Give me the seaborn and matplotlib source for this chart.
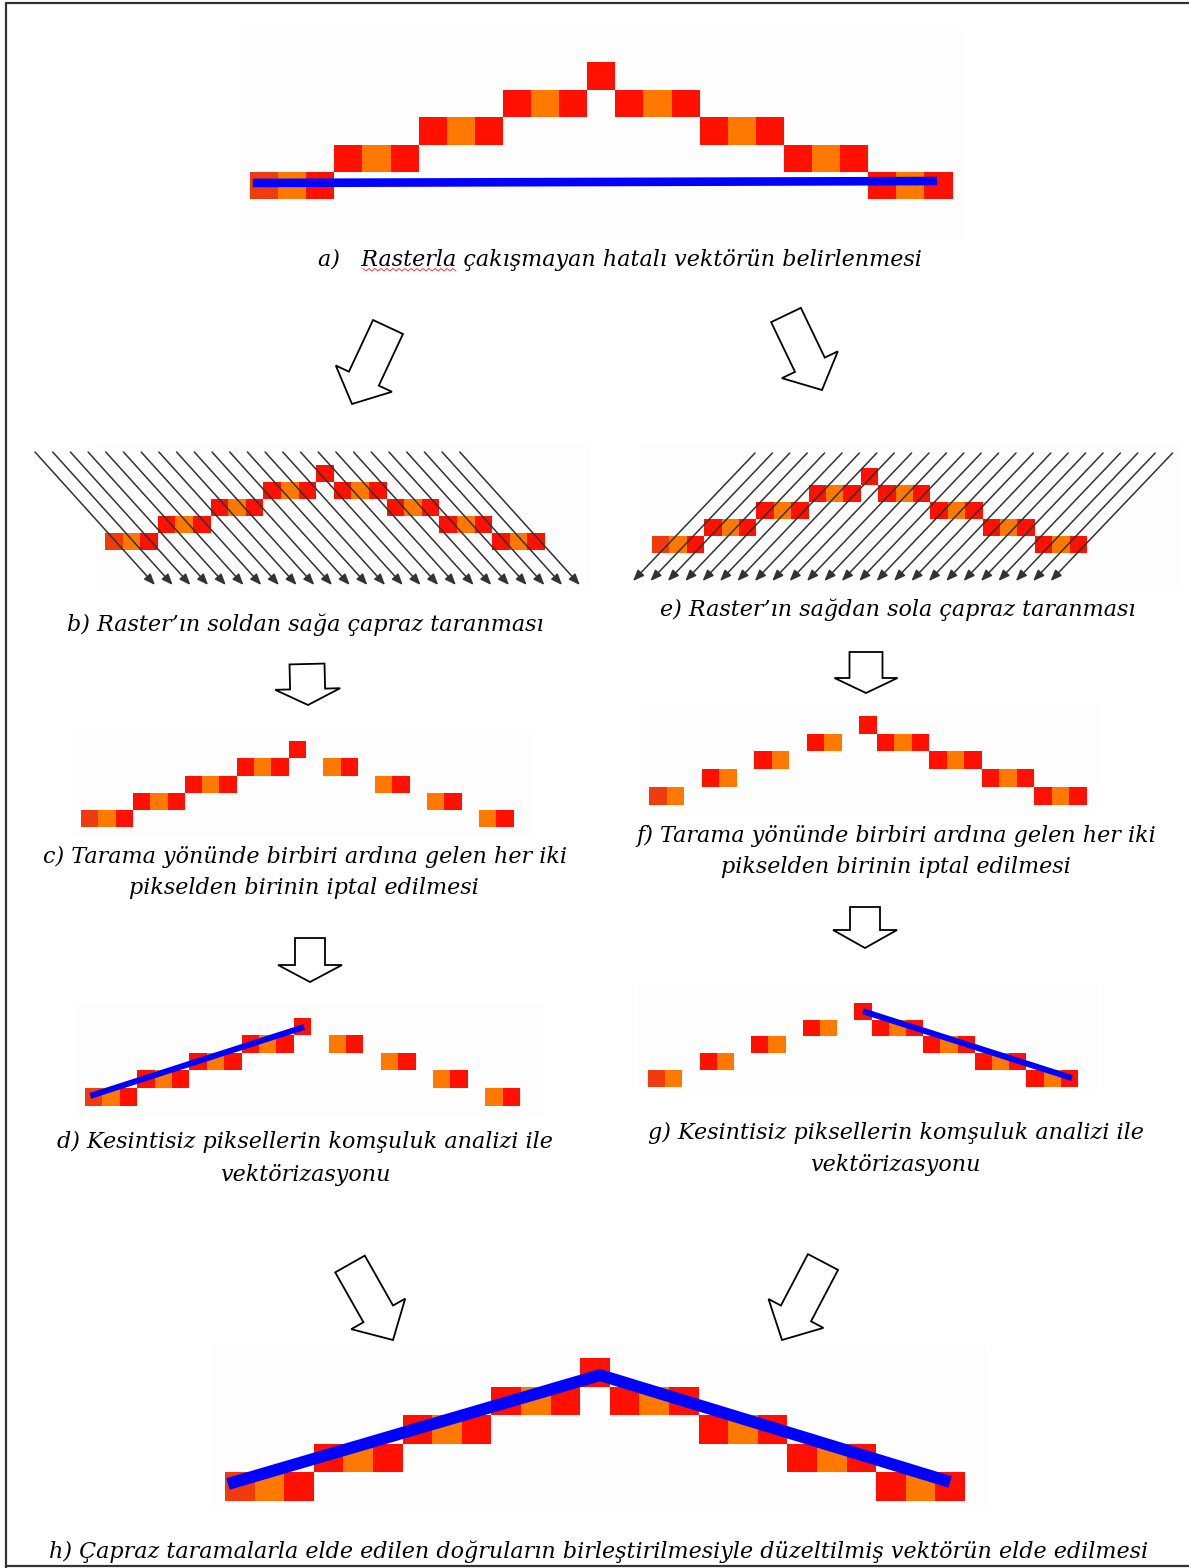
import numpy as np
import seaborn as sns
import matplotlib.pyplot as plt
from matplotlib.patches import FancyArrow, Rectangle

# Raster pixels (column, row level, shade) -- full raster used in a, b, e, h
FULL_COLS = [0, 1, 2, 3, 4, 5, 6, 7, 8, 9, 10, 11, 12, 13, 14, 15, 16, 17, 18, 19, 20, 21, 22, 23, 24]
FULL_ROWS = [0, 0, 0, 1, 1, 1, 2, 2, 2, 3, 3, 3, 4, 3, 3, 3, 2, 2, 2, 1, 1, 1, 0, 0, 0]
FULL_SHADE = ['D', 'O', 'R', 'R', 'O', 'R', 'R', 'O', 'R', 'R', 'O', 'R', 'R',
              'R', 'O', 'R', 'R', 'O', 'R', 'R', 'O', 'R', 'R', 'O', 'R']

# left-to-right scan, every second pixel removed on the right side (c, d)
LR_COLS = [0, 1, 2, 3, 4, 5, 6, 7, 8, 9, 10, 11, 12, 14, 15, 17, 18, 20, 21, 23, 24]
LR_ROWS = [0, 0, 0, 1, 1, 1, 2, 2, 2, 3, 3, 3, 4, 3, 3, 2, 2, 1, 1, 0, 0]
LR_SHADE = ['D', 'O', 'R', 'R', 'O', 'R', 'R', 'O', 'R', 'R', 'O', 'R', 'R',
            'O', 'R', 'O', 'R', 'O', 'R', 'O', 'R']

# right-to-left scan, every second pixel removed on the left side (f, g)
RL_COLS = [0, 1, 3, 4, 6, 7, 9, 10, 12, 13, 14, 15, 16, 17, 18, 19, 20, 21, 22, 23, 24]
RL_ROWS = [0, 0, 1, 1, 2, 2, 3, 3, 4, 3, 3, 3, 2, 2, 2, 1, 1, 1, 0, 0, 0]
RL_SHADE = ['D', 'O', 'R', 'O', 'R', 'O', 'R', 'O', 'R',
            'R', 'O', 'R', 'R', 'O', 'R', 'R', 'O', 'R', 'R', 'O', 'R']

# vectors in raster grid units (column, row level)
VEC_A_X = [0.1, 24.45]
VEC_A_Y = [0.6, 0.67]
VEC_D_X = [0.3, 12.6]
VEC_D_Y = [0.55, 4.47]
VEC_G_X = [12.5, 24.65]
VEC_G_Y = [4.5, 0.52]
VEC_H_X = [0.1, 12.67, 24.5]
VEC_H_Y = [0.58, 4.4, 0.65]

N_SCAN = 25

LABEL_A = 'a)   Rasterla çakışmayan hatalı vektörün belirlenmesi'
LABEL_B = 'b) Raster’ın soldan sağa çapraz taranması'
LABEL_E = 'e) Raster’ın sağdan sola çapraz taranması'
LABEL_C = ['c) Tarama yönünde birbiri ardına gelen her iki', 'pikselden birinin iptal edilmesi']
LABEL_F = ['f) Tarama yönünde birbiri ardına gelen her iki', 'pikselden birinin iptal edilmesi']
LABEL_D = ['d) Kesintisiz piksellerin komşuluk analizi ile', 'vektörizasyonu']
LABEL_G = ['g) Kesintisiz piksellerin komşuluk analizi ile', 'vektörizasyonu']
LABEL_H = 'h) Çapraz taramalarla elde edilen doğruların birleştirilmesiyle düzeltilmiş vektörün elde edilmesi'

SHADES = {'D': '#f03c0c', 'R': '#ff1000', 'O': '#ff7800'}
BLUE = '#0000ff'

sns.set_theme(style='white')
W, H = 1189, 1568
fig = plt.figure(figsize=(W / 100, H / 100), dpi=100)
ax = fig.add_axes([0, 0, 1, 1])
ax.set_xlim(0, W)
ax.set_ylim(H, 0)
ax.axis('off')

# panel geometry: left x, top of row 0, pixel width, pixel height
PANELS = {
    'a': (250, 172, 28.1, 27.4),
    'b': (105, 533, 17.6, 17.1),
    'e': (652, 536, 17.4, 17.0),
    'c': (81, 810, 17.3, 17.2),
    'f': (649, 787, 17.5, 17.8),
    'd': (85, 1088, 17.4, 17.6),
    'g': (648, 1070, 17.2, 16.8),
    'h': (225, 1472, 29.6, 28.5),
}


def grid_to_px(panel, gx, gy):
    x0, top0, pw, ph = PANELS[panel]
    gx = np.asarray(gx, dtype=float)
    gy = np.asarray(gy, dtype=float)
    return x0 + gx * pw, top0 + ph - gy * ph


def draw_raster(panel, cols, rows, shades):
    x0, top0, pw, ph = PANELS[panel]
    cols = np.asarray(cols)
    rows = np.asarray(rows)
    ax.bar(x0 + cols * pw, ph, width=pw, bottom=top0 - rows * ph, align='edge',
           color=[SHADES[s] for s in shades], linewidth=0, zorder=2)


def draw_vector(panel, gx, gy, lw):
    px, py = grid_to_px(panel, gx, gy)
    sns.lineplot(x=px, y=py, ax=ax, sort=False, estimator=None, color=BLUE,
                 linewidth=lw, solid_capstyle='butt', zorder=4)


def hollow_arrow(tail, tip, width, head_w, head_l):
    dx, dy = tip[0] - tail[0], tip[1] - tail[1]
    ax.add_patch(FancyArrow(tail[0], tail[1], dx, dy, width=width, head_width=head_w,
                            head_length=head_l, length_includes_head=True,
                            fc='white', ec='black', lw=1.3, zorder=3))


# faint image backgrounds
for (bx, by, bw, bh) in [(240, 30, 725, 210), (95, 445, 495, 145), (640, 445, 540, 145),
                         (72, 730, 460, 105), (640, 705, 460, 105), (75, 1005, 470, 110),
                         (638, 985, 460, 105), (212, 1345, 775, 165)]:
    ax.add_patch(Rectangle((bx, by), bw, bh, fc='#fdfdfd', ec='none', zorder=1))

# rasters
draw_raster('a', FULL_COLS, FULL_ROWS, FULL_SHADE)
draw_raster('b', FULL_COLS, FULL_ROWS, FULL_SHADE)
draw_raster('e', FULL_COLS, FULL_ROWS, FULL_SHADE)
draw_raster('c', LR_COLS, LR_ROWS, LR_SHADE)
draw_raster('d', LR_COLS, LR_ROWS, LR_SHADE)
draw_raster('f', RL_COLS, RL_ROWS, RL_SHADE)
draw_raster('g', RL_COLS, RL_ROWS, RL_SHADE)
draw_raster('h', FULL_COLS, FULL_ROWS, FULL_SHADE)

# vectors
draw_vector('a', VEC_A_X, VEC_A_Y, 6.2)
draw_vector('d', VEC_D_X, VEC_D_Y, 4.3)
draw_vector('g', VEC_G_X, VEC_G_Y, 4.3)
draw_vector('h', VEC_H_X, VEC_H_Y, 8.6)

# diagonal scan lines
scan_style = dict(arrowstyle='-|>,head_length=0.55,head_width=0.22', color='#333333',
                  lw=1.1, shrinkA=0, shrinkB=0)
for i in range(N_SCAN):
    ax.annotate('', xy=(155 + i * 17.7, 585), xytext=(35 + i * 17.7, 452),
                arrowprops=scan_style, zorder=5)
    ax.annotate('', xy=(633 + i * 17.4, 581), xytext=(755 + i * 17.4, 453),
                arrowprops=scan_style, zorder=5)

# hollow flow arrows
hollow_arrow((388, 327), (352, 404), 33, 62, 28)
hollow_arrow((786, 315), (822, 390), 33, 62, 28)
hollow_arrow((307, 664), (308, 705), 35, 65, 16)
hollow_arrow((866, 652), (866, 693), 33, 63, 15)
hollow_arrow((310, 938), (310, 982), 30, 64, 17)
hollow_arrow((865, 907), (865, 948), 30, 64, 18)
hollow_arrow((350, 1264), (393, 1340), 34, 62, 30)
hollow_arrow((823, 1262), (782, 1340), 34, 62, 30)

# captions: fit the longest one to its width, use that size for all
font = dict(family='DejaVu Serif', style='italic', color='black')
fig.canvas.draw()
renderer = fig.canvas.get_renderer()
probe = ax.text(0, 0, LABEL_H, fontsize=14, **font)
wpx = probe.get_window_extent(renderer).width
probe.remove()
fs = 14 * 1102 / wpx


def caption(x, y, s):
    ax.text(x, y, s, fontsize=fs, ha='center', va='center', zorder=6, **font)


caption(620, 260, LABEL_A)
caption(305, 625, LABEL_B)
caption(898, 610, LABEL_E)
caption(305, 857, LABEL_C[0])
caption(304, 888, LABEL_C[1])
caption(896, 836, LABEL_F[0])
caption(896, 867, LABEL_F[1])
caption(305, 1142, LABEL_D[0])
caption(305, 1175, LABEL_D[1])
caption(896, 1133, LABEL_G[0])
caption(895, 1165, LABEL_G[1])
caption(599, 1552, LABEL_H)

# spell-check squiggle under "Rasterla"
sq_x = np.arange(363, 459, 3)
sq_y = np.where(np.arange(len(sq_x)) % 2 == 0, 268.5, 271)
ax.plot(sq_x, sq_y, color='#ff2020', lw=0.6, zorder=6)

# page frame
ax.plot([6, 6], [3, H], color='#333333', lw=1.6, zorder=7)
ax.plot([6, W], [3, 3], color='#333333', lw=1.6, zorder=7)
ax.plot([6, W], [H - 2, H - 2], color='#333333', lw=1.6, zorder=7)

fig.savefig('out.png', dpi=100)
